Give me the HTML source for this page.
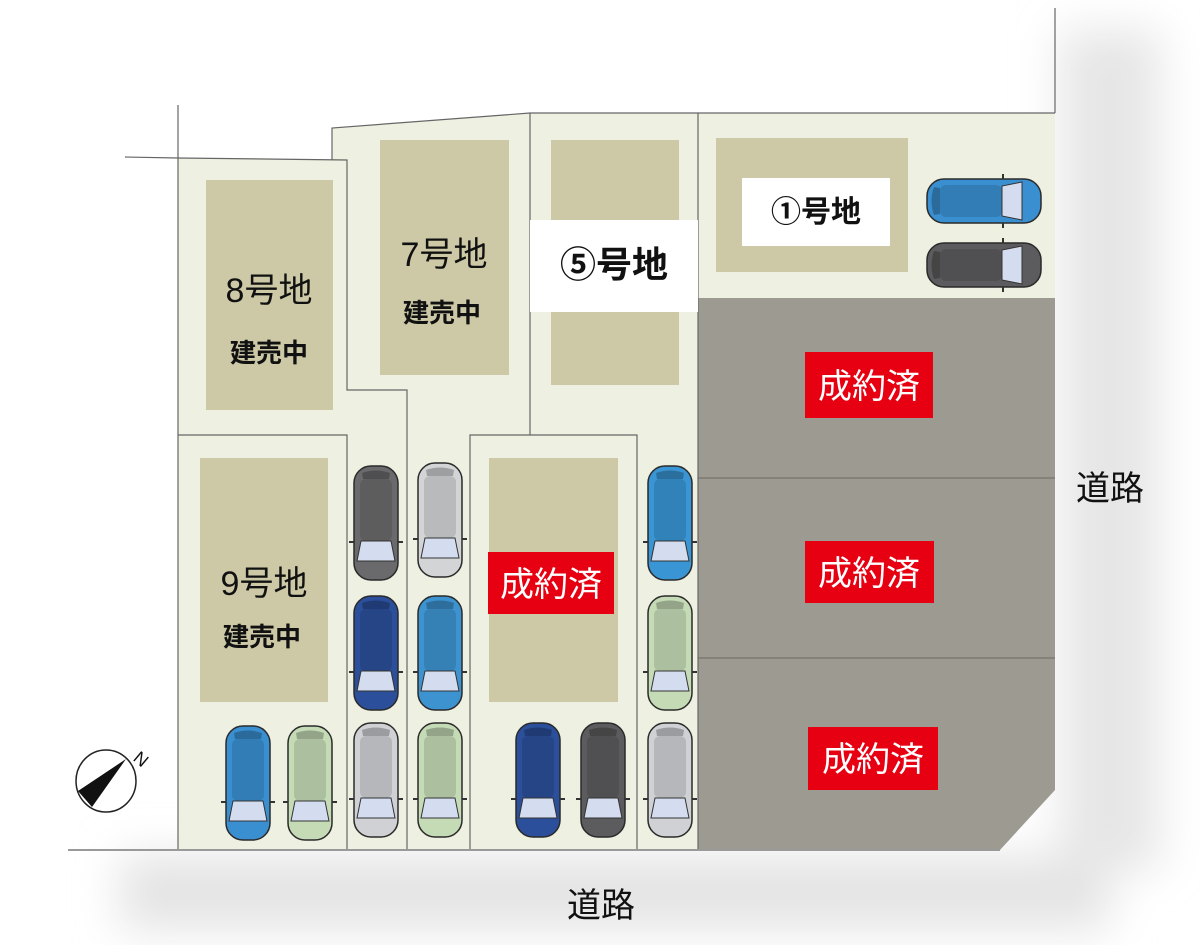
<!DOCTYPE html>
<html><head><meta charset="utf-8"><style>
html,body{margin:0;padding:0;background:#fff}
svg{display:block}
text{font-family:"Liberation Sans","Noto Sans CJK JP",sans-serif}
</style></head><body>
<svg width="1200" height="945" viewBox="0 0 1200 945" xmlns="http://www.w3.org/2000/svg">
<defs>
<filter id="bl"><feGaussianBlur stdDeviation="22"/></filter>
<symbol id="car" viewBox="0 0 46 116" overflow="visible">
<rect x="1" y="1" width="44" height="114" rx="17" fill="currentColor" stroke="#2a2a2a" stroke-width="1.5"/>
<rect x="7" y="14" width="32" height="62" rx="6" fill="#000" opacity="0.12"/>
<path d="M8 76 L38 76 L42 96 L4 96 Z" fill="#d4dcef" stroke="#333" stroke-width="1"/>
<path d="M9 8 Q23 3 37 8 L36 14 L10 14 Z" fill="#000" opacity="0.25"/>
<rect x="-4" y="76" width="5" height="2" fill="#333"/><rect x="45" y="76" width="5" height="2" fill="#333"/>
</symbol>
</defs>
<g filter="url(#bl)">
<rect x="120" y="855" width="990" height="75" fill="#e4e4e4"/>
<rect x="1060" y="30" width="100" height="840" fill="#e6e6e6"/>
</g>
<path d="M178 158 L332 160 L332 128 L530 113 L1055 113 L1055 298 L698 298 L698 850 L178 850 Z" fill="#eef0e1"/>
<path d="M698 298 L1055 298 L1055 790 L1000 850 L698 850 Z" fill="#9d9b91"/>
<line x1="698" y1="478" x2="1055" y2="478" stroke="#7c7a72" stroke-width="1.5"/>
<line x1="698" y1="658" x2="1055" y2="658" stroke="#7c7a72" stroke-width="1.5"/>
<g stroke="#666" stroke-width="1.2" fill="none">
<line x1="125" y1="157" x2="178" y2="158"/>
<line x1="178" y1="105" x2="178" y2="850"/>
<path d="M178 158 L347 160 L347 390 L407 390 L407 850"/>
<path d="M332 160 L332 128 L530 113 L698 113 L1055 113"/>
<line x1="530" y1="113" x2="530" y2="435"/>
<line x1="698" y1="113" x2="698" y2="850"/>
<line x1="1055" y1="8" x2="1055" y2="113"/>
<path d="M178 435 L347 435 L347 850"/>
<path d="M470 850 L470 435 L637 435 L637 850"/>
<line x1="68" y1="850" x2="1000" y2="850" stroke="#999" stroke-width="2"/>
</g>
<g fill="#cdc9a7">
<rect x="206" y="180" width="127" height="230"/>
<rect x="380" y="140" width="129" height="235"/>
<rect x="551" y="140" width="128" height="245"/>
<rect x="716" y="138" width="192" height="134"/>
<rect x="200" y="458" width="128" height="244"/>
<rect x="489" y="458" width="129" height="244"/>
</g>
<rect x="530" y="220" width="168" height="92" fill="#fff"/>
<rect x="742" y="178" width="148" height="68" fill="#fff"/>
<g fill="#e60012">
<rect x="488" y="552" width="126" height="62"/>
<rect x="805" y="352" width="128" height="66"/>
<rect x="805" y="541" width="129" height="62"/>
<rect x="808" y="727" width="130" height="63"/>
</g>
<g fill="#111" text-anchor="middle">
<text x="269" y="302" font-size="34">8号地</text>
<text x="269" y="362" font-size="26" font-weight="bold">建売中</text>
<text x="444" y="266" font-size="34">7号地</text>
<text x="442" y="322" font-size="26" font-weight="bold">建売中</text>
<text x="264" y="595" font-size="34">9号地</text>
<text x="262" y="646" font-size="26" font-weight="bold">建売中</text>
<text x="614" y="277" font-size="36" font-weight="bold">⑤号地</text>
<text x="816" y="222" font-size="30" font-weight="bold">①号地</text>
<text x="601" y="917" font-size="34">道路</text>
<text x="1110" y="500" font-size="34">道路</text>
</g>
<g fill="#fff" text-anchor="middle" font-size="34">
<text x="551" y="596">成約済</text>
<text x="869" y="398">成約済</text>
<text x="869" y="585">成約済</text>
<text x="873" y="771">成約済</text>
</g>
<use href="#car" x="353" y="465" width="46" height="116" style="color:#6a6a6c"/>
<use href="#car" x="353" y="595" width="46" height="116" style="color:#2b4f9a"/>
<use href="#car" x="353" y="722" width="46" height="116" style="color:#cfd1d5"/>
<use href="#car" x="417" y="462" width="46" height="116" style="color:#d2d4d6"/>
<use href="#car" x="417" y="595" width="46" height="116" style="color:#3d93d0"/>
<use href="#car" x="417" y="722" width="46" height="116" style="color:#c4dbb6"/>
<use href="#car" x="647" y="465" width="46" height="116" style="color:#3a95d4"/>
<use href="#car" x="647" y="595" width="46" height="116" style="color:#c4dbb6"/>
<use href="#car" x="647" y="722" width="46" height="116" style="color:#cfd1d5"/>
<use href="#car" x="225" y="725" width="46" height="116" style="color:#3a8fd0"/>
<use href="#car" x="287" y="725" width="46" height="116" style="color:#c4dbb6"/>
<use href="#car" x="515" y="722" width="46" height="116" style="color:#2b4f9a"/>
<use href="#car" x="580" y="722" width="46" height="116" style="color:#5c5c5e"/>
<use href="#car" x="0" y="0" width="46" height="116" transform="translate(926,224) rotate(-90)" style="color:#3a8fd0"/>
<use href="#car" x="0" y="0" width="46" height="116" transform="translate(926,288) rotate(-90)" style="color:#5c5c5e"/>
<g transform="translate(106,781)">
<ellipse cx="0" cy="0" rx="30" ry="31" fill="#fff" stroke="#222" stroke-width="1.5"/>
<path d="M20 -22 L-28 10 L-14 26 Z" fill="#111"/>
<text x="30" y="-20" font-size="18" fill="#111" transform="rotate(40 30 -26)">N</text>
</g>
</svg>
</body></html>
